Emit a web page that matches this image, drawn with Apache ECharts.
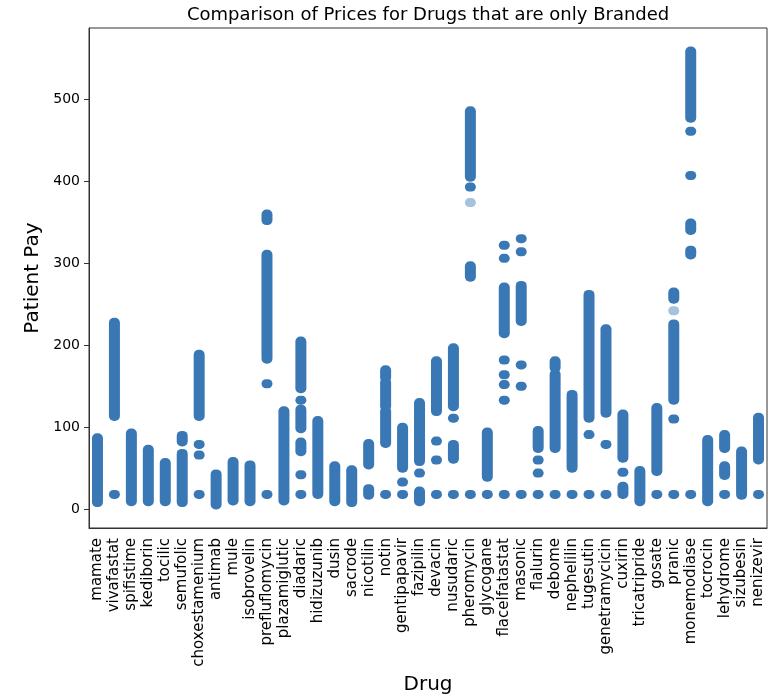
<!DOCTYPE html>
<html>
<head>
<meta charset="utf-8">
<script src="https://cdn.jsdelivr.net/npm/echarts@6/dist/echarts.min.js"></script>
<style>
  html, body { margin: 0; padding: 0; background: #fff; }
  #chart { width: 769px; height: 700px; }
</style>
</head>
<body>
<div id="chart"></div>
<script>
const drugs = ['mamate', 'vivafastat', 'spifistime', 'kediborin', 'tocilic', 'semufolic',
  'choxestamenium', 'antimab', 'mule', 'isobrovelin', 'prefluflomycin', 'plazamiglutic',
  'diadaric', 'hidizuzunib', 'dusin', 'sacrode', 'nicotilin', 'notin', 'gentipapavir',
  'fazipilin', 'devacin', 'nusudaric', 'pheromycin', 'glycogane', 'flacelfatastat',
  'masonic', 'flalurin', 'debome', 'nephelilin', 'tugesutin', 'genetramycicin', 'cuxirin',
  'tricatripride', 'gosate', 'pranic', 'monemodiase', 'tocrocin', 'lehydrome', 'sizubesin',
  'nenizevir']

// patient pay per drug, as [low, high] runs of overlapping points (single point: low == high)
const pay = [
  [[8, 87]],
  [[18, 18], [113, 228]],
  [[9, 93]],
  [[9, 73]],
  [[9, 57]],
  [[8, 68], [82, 90]],
  [[18, 18], [66, 66], [79, 79], [113, 189]],
  [[5, 43]],
  [[10, 58]],
  [[9, 54]],
  [[18, 18], [153, 153], [183, 311], [352, 360]],
  [[10, 120]],
  [[18, 18], [42, 42], [70, 82], [98, 122], [133, 133], [147, 205]],
  [[18, 108]],
  [[9, 53]],
  [[8, 48]],
  [[17, 25], [54, 80]],
  [[18, 18], [80, 120], [125, 155], [160, 170]],
  [[18, 18], [33, 33], [50, 100]],
  [[9, 22], [44, 44], [58, 130]],
  [[18, 18], [60, 60], [83, 83], [119, 181]],
  [[18, 18], [61, 79], [111, 111], [125, 197]],
  [[18, 18], [283, 297], [393, 393], [405, 486]],
  [[18, 18], [39, 94]],
  [[18, 18], [133, 133], [152, 152], [164, 164], [182, 182], [214, 271], [306, 306], [322, 322]],
  [[18, 18], [150, 150], [176, 176], [229, 273], [314, 314], [330, 330]],
  [[18, 18], [44, 44], [60, 60], [74, 96]],
  [[18, 18], [74, 165], [172, 181]],
  [[18, 18], [50, 140]],
  [[18, 18], [91, 91], [111, 262]],
  [[18, 18], [79, 79], [117, 220]],
  [[18, 28], [45, 45], [62, 116]],
  [[9, 47]],
  [[18, 18], [46, 124]],
  [[18, 18], [110, 110], [133, 226], [256, 265]],
  [[18, 18], [310, 316], [340, 349], [407, 407], [461, 461], [477, 559]],
  [[9, 85]],
  [[18, 18], [41, 53], [74, 91]],
  [[17, 71]],
  [[18, 18], [60, 112]]
]

// lone half-transparent points
const faint = [[22, 374], [34, 242]]

const yTicks = [0, 100, 200, 300, 400, 500]

const color = '#3a78b5'
const font = 'DejaVu Sans'

const segData = []
pay.forEach((runs, i) => {
  runs.forEach((r) => {
    segData.push([i, r[0], r[1]])
  })
})
const faintData = faint.map((p) => [p[0], p[1], p[1]])

const renderRun = (opacity) => (params, api) => {
  const hi = api.coord([api.value(0), api.value(2)])
  const lo = api.coord([api.value(0), api.value(1)])
  const w = 11
  return {
    type: 'rect',
    shape: { x: hi[0] - w / 2, y: hi[1] - 4.5, width: w, height: lo[1] - hi[1] + 9, r: 5 },
    style: { fill: color, opacity: opacity },
  }
}

const chart = echarts.init(document.getElementById('chart'), null, { renderer: 'canvas' })
chart.setOption({
  animation: false,
  title: {
    text: 'Comparison of Prices for Drugs that are only Branded',
    left: 182,
    top: 1,
    textStyle: { fontFamily: font, fontSize: 18, fontWeight: 'normal', color: '#000' },
  },
  grid: {
    left: 89, right: 2, top: 28, bottom: 172,
    show: true, borderColor: '#333', borderWidth: 1,
  },
  xAxis: {
    type: 'category',
    data: drugs,
    boundaryGap: true,
    name: 'Drug',
    nameLocation: 'middle',
    nameGap: 147,
    nameTextStyle: { fontFamily: font, fontSize: 20, color: '#000' },
    axisLine: { onZero: false, lineStyle: { color: '#333' } },
    axisTick: { alignWithLabel: true, length: 5, lineStyle: { color: '#333' } },
    axisLabel: { rotate: 90, interval: 0, margin: 10, fontFamily: font, fontSize: 15, color: '#000' },
    splitLine: { show: false },
  },
  yAxis: {
    type: 'value',
    min: -23,
    max: 587,
    name: 'Patient Pay',
    nameLocation: 'middle',
    nameGap: 44,
    nameTextStyle: { fontFamily: font, fontSize: 20, color: '#000' },
    axisLine: { show: true, lineStyle: { color: '#333' } },
    axisTick: { show: true, length: 5, customValues: yTicks, lineStyle: { color: '#333' } },
    axisLabel: { customValues: yTicks, margin: 9, fontFamily: font, fontSize: 14, color: '#000' },
    splitLine: { show: false },
  },
  series: [
    {
      type: 'custom',
      renderItem: renderRun(1),
      encode: { x: 0, y: [1, 2] },
      data: segData,
    },
    {
      type: 'custom',
      renderItem: renderRun(0.45),
      encode: { x: 0, y: [1, 2] },
      data: faintData,
    },
  ],
})
</script>
</body>
</html>
